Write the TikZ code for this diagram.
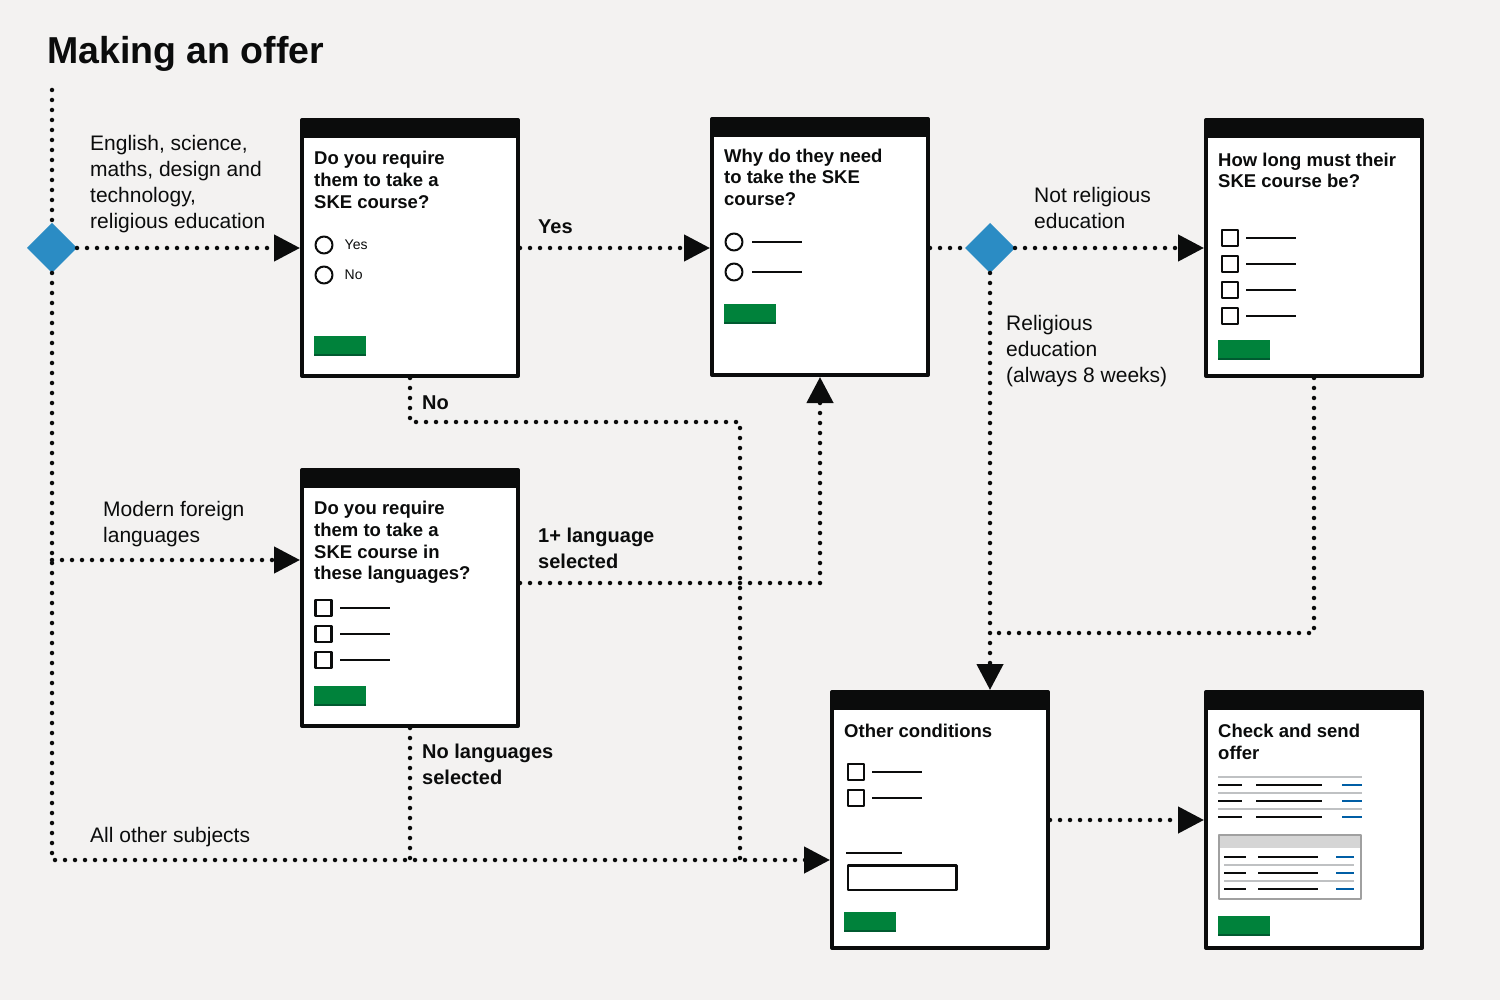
\documentclass[tikz,border=0pt]{standalone}
\usepackage{fontspec}
\setmainfont{Liberation Sans}
\usetikzlibrary{arrows.meta,positioning,shapes.geometric}
\definecolor{govBlack}{HTML}{0B0C0C}
\definecolor{govPaper}{HTML}{F3F2F1}
\definecolor{govGreen}{HTML}{00823B}
\definecolor{govGreenDark}{HTML}{005A30}
\definecolor{govBlue}{HTML}{2B8CC4}
\definecolor{govLink}{HTML}{005EA5}
\definecolor{govRule}{HTML}{BFC1C3}
\definecolor{govCard}{HTML}{A0A0A0}
\definecolor{govCardHead}{HTML}{D5D5D5}

\begin{document}
\begin{tikzpicture}[x=1pt,y=-1pt,>={Triangle[length=26pt,width=26pt]},line join=round]
\path[fill=govPaper] (0,0) rectangle (1500,1000);
\node[anchor=north west,inner sep=0,text=govBlack,font=\bfseries\fontsize{37.5}{44}\selectfont] (title) at (47,36) {Making an offer};
\tikzset{screen/.style={draw=govBlack,fill=white,line width=4pt,minimum width=216pt,minimum height=256pt,inner sep=0,path picture={\fill[govBlack] (path picture bounding box.north west) rectangle ([yshift=-18pt]path picture bounding box.north east);}},
  decision/.style={diamond,fill=govBlue,minimum size=50pt,inner sep=0,outer sep=0},
  flow/.style={draw=govBlack,line width=4.5pt,line cap=round,dash pattern=on 0pt off 10pt},
  qtitle/.style={anchor=north west,inner sep=0,align=left,text=govBlack,font=\bfseries\fontsize{18.5}{21.7}\selectfont},
  lbl/.style={anchor=north west,inner sep=0,align=left,text=govBlack,font=\fontsize{21}{26}\selectfont},
  blbl/.style={lbl,font=\bfseries\fontsize{20}{26}\selectfont},
  opt/.style={inner sep=0,text=govBlack,font=\fontsize{14}{16}\selectfont},
  radio/.style={circle,draw=govBlack,line width=2pt,minimum size=17pt,inner sep=0},
  tick/.style={draw=govBlack,line width=2.5pt,minimum size=16pt,inner sep=0},
  rule/.style={draw=govBlack,line width=2pt},
  btn/.style={fill=govGreen,anchor=north west,minimum width=52pt,minimum height=20pt,inner sep=0,outer sep=0,path picture={\fill[govGreenDark] (path picture bounding box.south west) rectangle ([yshift=2pt]path picture bounding box.south east);}}}
% screens
\node[screen] (req) at (410,248) {};
\node[qtitle] (reqq) at (314,151) {Do you require\\them to take a\\SKE course?};
\node[radio] (reqyes) at (324,245) {}; \node[opt,right=11pt of reqyes] (reqyest) {Yes};
\node[radio] (reqno) at (324,275) {}; \node[opt,right=11pt of reqno] (reqnot) {No};
\node[btn] (reqbtn) at (314,336) {};
\node[screen] (why) at (820,247) {};
\node[qtitle] (whyq) at (724,148.5) {Why do they need\\to take the SKE\\course?};
\foreach \i/\y in {1/242,2/272} {\node[radio] (whyo\i) at (734,\y) {}; \draw[rule] (752,\y) -- (802,\y);}
\node[btn] (whybtn) at (724,304) {};
\node[screen] (len) at (1314,248) {};
\node[qtitle] (lenq) at (1218,152.5) {How long must their\\SKE course be?};
\foreach \i/\y in {1/238,2/264,3/290,4/316} {\node[tick] (lenc\i) at (1230,\y) {}; \draw[rule] (1246,\y) -- (1296,\y);}
\node[btn] (lenbtn) at (1218,340) {};
\node[screen] (lang) at (410,598) {};
\node[qtitle] (langq) at (314,501) {Do you require\\them to take a\\SKE course in\\these languages?};
\foreach \i/\y in {1/608,2/634,3/660} {\node[tick] (langc\i) at (323.5,\y) {}; \draw[rule] (340,\y) -- (390,\y);}
\node[btn] (langbtn) at (314,686) {};
\node[screen] (cond) at (940,820) {};
\node[qtitle] (condq) at (844,724) {Other conditions};
\foreach \i/\y in {1/772,2/798} {\node[tick] (condc\i) at (856,\y) {}; \draw[rule] (872,\y) -- (922,\y);}
\draw[rule] (846,853) -- (902,853);
\node[draw=govBlack,line width=2.5pt,minimum width=108.5pt,minimum height=24.5pt,inner sep=0] (condfield) at (902,877.7) {};
\node[btn] (condbtn) at (844,912) {};
\node[screen] (chk) at (1314,820) {};
\node[qtitle] (chkq) at (1218,724) {Check and send\\offer};
\foreach \y in {777,793,809} \draw[line width=2pt,draw=govRule] (1218,\y) -- (1362,\y);
\foreach \y in {785,801,817} {\draw[rule] (1218,\y) -- (1242,\y) (1256,\y) -- (1322,\y); \draw[rule,draw=govLink] (1342,\y) -- (1362,\y);}
\node[draw=govCard,fill=white,line width=2pt,minimum width=141.4pt,minimum height=63.4pt,inner sep=0,path picture={\fill[govCardHead] (path picture bounding box.north west) rectangle ([yshift=-13pt]path picture bounding box.north east);}] (chkcard) at (1290,867) {};
\foreach \y in {865,881} \draw[line width=1.5pt,draw=govRule] (1224,\y) -- (1354,\y);
\foreach \y in {857,873,889} {\draw[rule] (1224,\y) -- (1246,\y) (1258,\y) -- (1318,\y); \draw[rule,draw=govLink] (1336,\y) -- (1354,\y);}
\node[btn] (chkbtn) at (1218,916) {};
% decisions and flow
\node[decision] (d1) at (52,248) {};
\node[decision] (d2) at (990,248) {};
\coordinate (entry) at (52,90);
\coordinate (langin) at ([yshift=38pt]lang.west);
\coordinate (langout) at ([yshift=15pt]lang.east);
\coordinate (condin) at ([yshift=-40pt]cond.west);
\coordinate (nobend) at (740,422);
\coordinate (lenbend) at (1314,633);
\draw[flow] (entry) -- (d1.north);
\draw[flow,->] (d1.east) -- (req.west);
\draw[flow,->] (d1.south) |- (condin);
\draw[flow,->] (d1.south |- langin) -- (langin);
\draw[flow,->] (req.east) -- (req.east -| why.west);
\draw[flow] (req.south) |- (nobend) -- (nobend |- condin);
\draw[flow,->] (langout) -| (why.south);
\draw[flow] (lang.south) -- (lang.south |- condin);
\draw[flow] (why.east |- d2.west) -- (d2.west);
\draw[flow,->] (d2.east) -- (len.west);
\draw[flow,->] (d2.south) -- (d2.south |- cond.north);
\draw[flow] (len.south) -- (lenbend) -- (lenbend -| d2.south);
\draw[flow,->] (cond.east) -- (chk.west);
% labels
\node[lbl] (lblstem) at (90,135) {English, science,\\maths, design and\\technology,\\religious education};
\node[lbl] (lblmfl) at (103,501) {Modern foreign\\languages};
\node[lbl] (lblother) at (90,827) {All other subjects};
\node[lbl] (lblnotre) at (1034,187) {Not religious\\education};
\node[lbl] (lblre) at (1006,315) {Religious\\education\\(always 8 weeks)};
\node[blbl] (lblyes) at (538,220) {Yes};
\node[blbl] (lblno) at (422,396) {No};
\node[blbl] (lblone) at (538,528) {1+ language\\selected};
\node[blbl] (lblnone) at (422,744) {No languages\\selected};
\end{tikzpicture}
\end{document}
